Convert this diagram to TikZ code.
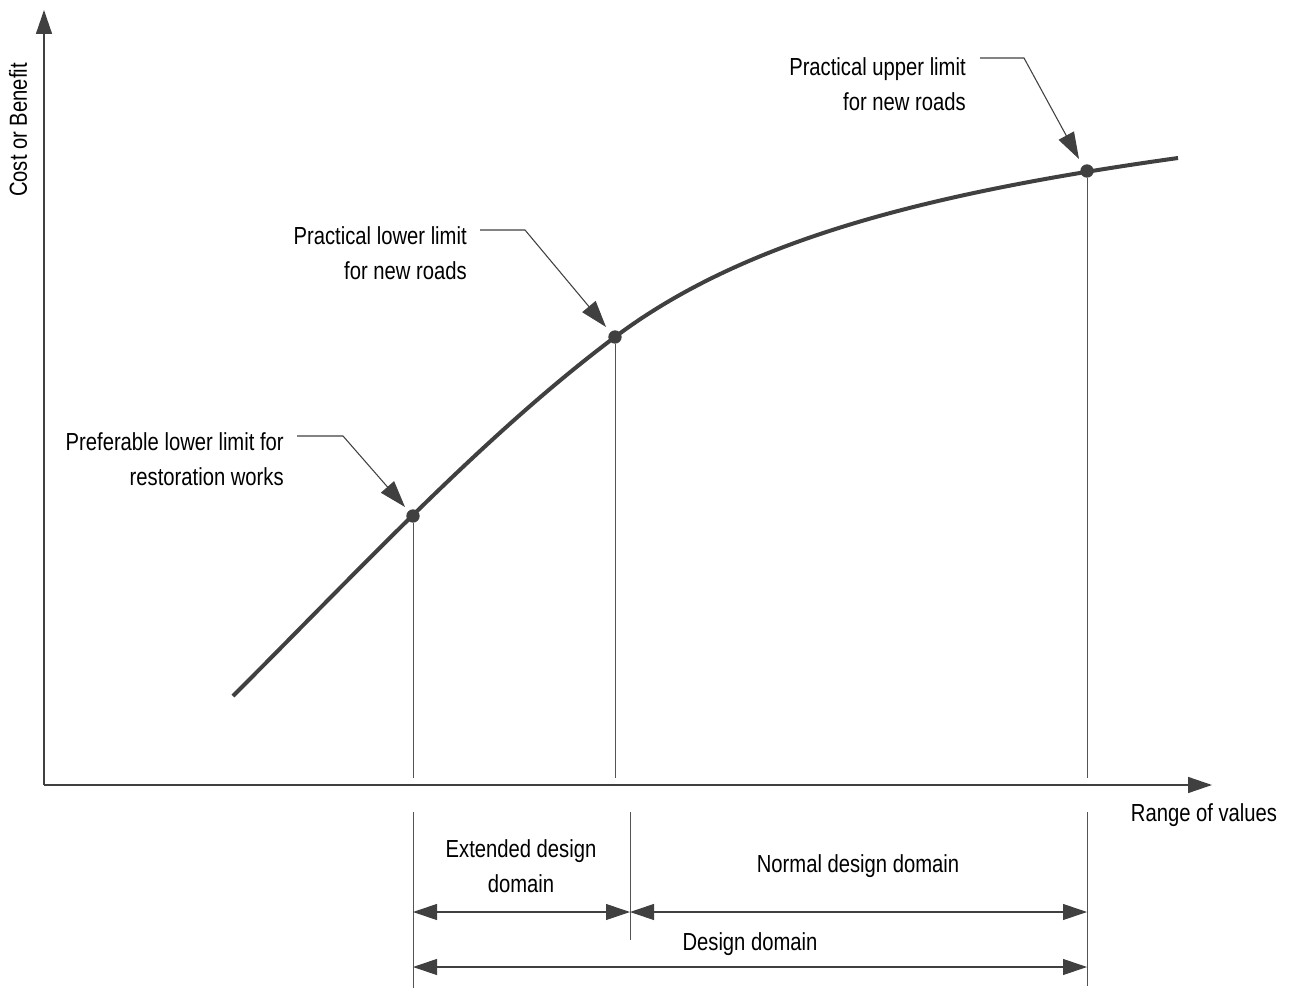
\documentclass[tikz,border=0pt]{standalone}
\usepackage{fontspec}
\setmainfont{Liberation Sans}[FakeStretch=0.82]
\usetikzlibrary{arrows.meta}

\definecolor{ink}{HTML}{404040}
\tikzset{
  tip/.tip={Triangle[length=18pt,width=12pt]},
  axis/.style={draw=ink, line width=1.1pt, -tip},
  guide/.style={draw=ink!90, line width=0.7pt},
  dimline/.style={draw=ink, line width=0.8pt, tip-tip},
  leader/.style={draw=ink, line width=0.8pt, -{Triangle[length=20pt,width=13pt]}},
  dot/.style={circle, fill=ink, inner sep=0pt, minimum size=10pt},
  lbl/.style={font=\fontsize{18.5}{26}\selectfont, inner sep=0pt},
}

\begin{document}
\begin{tikzpicture}[x=0.75pt, y=-0.75pt]
  \useasboundingbox (0,0) rectangle (1290,988);

  % axes
  \coordinate (o) at (44,785);
  \coordinate (ytop) at (44,10);
  \coordinate (xend) at (1212,785);
  \draw[axis] (o) -- (ytop);
  \draw[axis] (o) -- (xend);
  \node[lbl, rotate=90] (ylab) at (18,130) {Cost or Benefit};
  \node[lbl] (xlab) at (1204,815) {Range of values};

  % curve
  \coordinate (c0) at (233,696);
  \coordinate (c1) at (615,337);
  \coordinate (c2) at (1178,158);
  \draw[ink, line width=3pt]
    (c0) .. controls (363,566) and (485,434.5) .. (c1)
         .. controls (745,239.5) and (928,193) .. (c2);

  % points on the curve
  \node[dot] (p1) at (413,516) {};
  \node[dot] (p2) at (c1) {};
  \node[dot] (p3) at (1087,171) {};

  % drop lines
  \coordinate (a1) at (413,778);
  \coordinate (a2) at (615,778);
  \coordinate (a3) at (1087,778);
  \draw[guide] (p1) -- (a1);
  \draw[guide] (p2) -- (a2);
  \draw[guide] (p3) -- (a3);

  % extension lines below the axis
  \coordinate (e1t) at (413,812);
  \coordinate (e1b) at (413,988);
  \coordinate (e2t) at (630,812);
  \coordinate (e2b) at (630,940);
  \coordinate (e3t) at (1087,812);
  \coordinate (e3b) at (1087,986);
  \draw[guide] (e1t) -- (e1b);
  \draw[guide] (e2t) -- (e2b);
  \draw[guide] (e3t) -- (e3b);

  % domains
  \coordinate (d1) at (413,912);
  \coordinate (d2) at (630,912);
  \coordinate (d3) at (1087,912);
  \coordinate (d4) at (413,967);
  \coordinate (d5) at (1087,967);
  \draw[dimline] (d1) -- (d2);
  \draw[dimline] (d2) -- (d3);
  \draw[dimline] (d4) -- (d5);
  \node[lbl, align=center] (ext) at (521,866) {Extended design\\domain};
  \node[lbl] (norm) at (858,866) {Normal design domain};
  \node[lbl] (des) at (750,944) {Design domain};

  % annotations
  \node[lbl, align=right, anchor=east] (n1) at (284,459) {Preferable lower limit for\\restoration works};
  \node[lbl, align=right, anchor=east] (n2) at (467,253) {Practical lower limit\\for new roads};
  \node[lbl, align=right, anchor=east] (n3) at (966,84) {Practical upper limit\\for new roads};
  \coordinate (k1) at (297,436);
  \coordinate (b1) at (343,436);
  \coordinate (t1) at (405,507);
  \coordinate (k2) at (480,230);
  \coordinate (b2) at (525,230);
  \coordinate (t2) at (606,327);
  \coordinate (k3) at (980,58);
  \coordinate (b3) at (1024,58);
  \coordinate (t3) at (1079,159);
  \draw[leader] (k1) -- (b1) -- (t1);
  \draw[leader] (k2) -- (b2) -- (t2);
  \draw[leader] (k3) -- (b3) -- (t3);
\end{tikzpicture}
\end{document}
